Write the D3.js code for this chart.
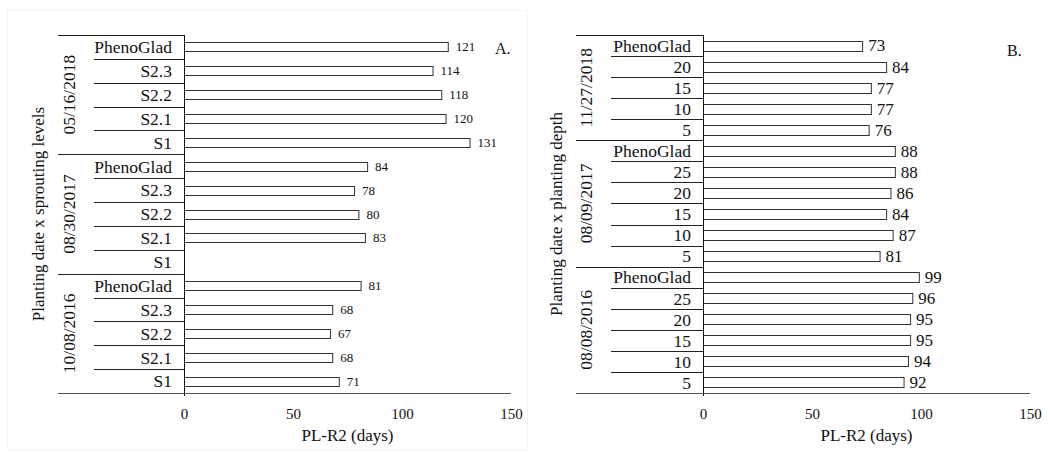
<!DOCTYPE html>
<html>
<head>
<meta charset="utf-8">
<script src="https://cdn.jsdelivr.net/npm/d3@7"></script>
<style>
  body { margin:0; background:#fff; }
  svg text { font-family:"Liberation Serif","Times New Roman",serif; fill:#111; }
</style>
</head>
<body>
<svg id="chart" width="1050" height="454"></svg>
<script>

// panel A : planting date x sprouting levels
var groupsA = ["05/16/2018", "08/30/2017", "10/08/2016"];
var catsA = ["PhenoGlad", "S2.3", "S2.2", "S2.1", "S1"];
var valsA2018 = [121, 114, 118, 120, 131];
var valsA2017 = [84, 78, 80, 83, null];   // S1 has no bar
var valsA2016 = [81, 68, 67, 68, 71];

// panel B : planting date x planting depth
var groupsB = ["11/27/2018", "08/09/2017", "08/08/2016"];
var catsB2018 = ["PhenoGlad", "20", "15", "10", "5"];
var catsB = ["PhenoGlad", "25", "20", "15", "10", "5"];
var valsB2018 = [73, 84, 77, 77, 76];
var valsB2017 = [88, 88, 86, 84, 87, 81];
var valsB2016 = [99, 96, 95, 95, 94, 92];

var xTicks = [0, 50, 100, 150];

var svg = d3.select("#chart");

// faint frame round the left figure
svg.append("rect")
	.attr("x", 7.5).attr("y", 10.5)
	.attr("width", 520).attr("height", 440)
	.attr("fill", "none")
	.attr("stroke", "#f4f4f4");

function makeRows(groups, cats, vals){
	var rows = [];
	groups.forEach(function(g, gi){
		cats[gi].forEach(function(c, ci){
			rows.push({group: g, cat: c, value: vals[gi][ci], key: g + "|" + c, first: ci == 0});
		});
	});
	return rows;
}

function drawPanel(cfg){
	var rows = makeRows(cfg.groups, cfg.cats, cfg.vals);

	var y = d3.scaleBand()
		.domain(rows.map(function(d){ return d.key; }))
		.range([35, 393]);

	var x = d3.scaleLinear()
		.domain([0, 150])
		.range([cfg.x0, cfg.x0 + 327]);

	var g = svg.append("g");

	// row separators (label column)
	g.selectAll(".rowline")
		.data(rows.filter(function(d){ return !d.first; }))
		.enter().append("line")
		.attr("x1", cfg.rowLeft).attr("x2", x(0))
		.attr("y1", function(d){ return Math.round(y(d.key)) + 0.5; })
		.attr("y2", function(d){ return Math.round(y(d.key)) + 0.5; })
		.attr("stroke", "#222");

	// group separators
	var gb = rows.filter(function(d){ return d.first; }).map(function(d){ return y(d.key); });
	gb.push(393);
	g.selectAll(".grpline")
		.data(gb.slice(0, gb.length - 1))
		.enter().append("line")
		.attr("x1", cfg.grpLeft).attr("x2", x(0))
		.attr("y1", function(d){ return Math.round(d) + 0.5; })
		.attr("y2", function(d){ return Math.round(d) + 0.5; })
		.attr("stroke", "#222");

	// bars
	var bh = cfg.barH;
	g.selectAll(".bar")
		.data(rows.filter(function(d){ return d.value != null; }))
		.enter().append("rect")
		.attr("x", x(0) + 0.5)
		.attr("y", function(d){ return Math.round(y(d.key) + y.bandwidth()/2 - bh/2) + 0.5; })
		.attr("width", function(d){ return x(d.value) - x(0); })
		.attr("height", bh)
		.attr("fill", "#fff")
		.attr("stroke", "#333")
		.attr("stroke-width", 1);

	// value labels
	g.selectAll(".val")
		.data(rows.filter(function(d){ return d.value != null; }))
		.enter().append("text")
		.attr("x", function(d){ return x(d.value) + cfg.valGap; })
		.attr("y", function(d){ return y(d.key) + y.bandwidth()/2; })
		.attr("dy", "0.35em")
		.style("font-size", cfg.valSize + "px")
		.text(function(d){ return d.value; });

	// category labels
	g.selectAll(".cat")
		.data(rows)
		.enter().append("text")
		.attr("x", x(0) - 12)
		.attr("y", function(d){ return y(d.key) + y.bandwidth()/2; })
		.attr("dy", "0.36em")
		.style("text-anchor", "end")
		.style("font-size", "17.5px")
		.text(function(d){ return d.cat; });

	// group labels, rotated
	cfg.groups.forEach(function(grp, i){
		var top = gb[i], bot = gb[i + 1];
		g.append("text")
			.attr("transform", "translate(" + cfg.grpX + "," + ((top + bot)/2) + ") rotate(-90)")
			.style("text-anchor", "middle")
			.style("font-size", "17.5px")
			.text(grp);
	});

	// y axis line
	g.append("line")
		.attr("x1", x(0) + 0.5).attr("x2", x(0) + 0.5)
		.attr("y1", 35).attr("y2", 396)
		.attr("stroke", "#111");

	// x axis
	var xAxis = d3.axisBottom(x).tickValues(xTicks).tickSize(0).tickPadding(15);
	var ax = g.append("g")
		.attr("class", "x axis")
		.attr("transform", "translate(0,393)")
		.call(xAxis);
	ax.select(".domain").remove();
	ax.selectAll("text")
		.style("font-family", "Liberation Serif, serif")
		.style("font-size", "15px")
		.attr("fill", "#111");

	g.append("line")
		.attr("x1", cfg.grpLeft).attr("x2", x(150))
		.attr("y1", 393.5).attr("y2", 393.5)
		.attr("stroke", "#555");

	// titles
	g.append("text")
		.attr("x", (x(0) + x(150))/2)
		.attr("y", 441)
		.style("text-anchor", "middle")
		.style("font-size", "17px")
		.text("PL-R2 (days)");

	g.append("text")
		.attr("transform", "translate(" + cfg.titleX + ",214) rotate(-90)")
		.style("text-anchor", "middle")
		.style("font-size", "17px")
		.text(cfg.title);

	g.append("text")
		.attr("x", cfg.tagX).attr("y", cfg.tagY)
		.style("font-size", "16px")
		.text(cfg.tag);
}

drawPanel({
	groups: groupsA,
	cats: [catsA, catsA, catsA],
	vals: [valsA2018, valsA2017, valsA2016],
	x0: 184, rowLeft: 94, grpLeft: 58, grpX: 75, titleX: 44,
	barH: 9, valGap: 8, valSize: 13,
	title: "Planting date x sprouting levels",
	tag: "A.", tagX: 495, tagY: 54
});

drawPanel({
	groups: groupsB,
	cats: [catsB2018, catsB, catsB],
	vals: [valsB2018, valsB2017, valsB2016],
	x0: 703, rowLeft: 611, grpLeft: 576, grpX: 592, titleX: 562,
	barH: 10, valGap: 6, valSize: 17,
	title: "Planting date x planting depth",
	tag: "B.", tagX: 1007, tagY: 56
});

</script>
</body>
</html>
